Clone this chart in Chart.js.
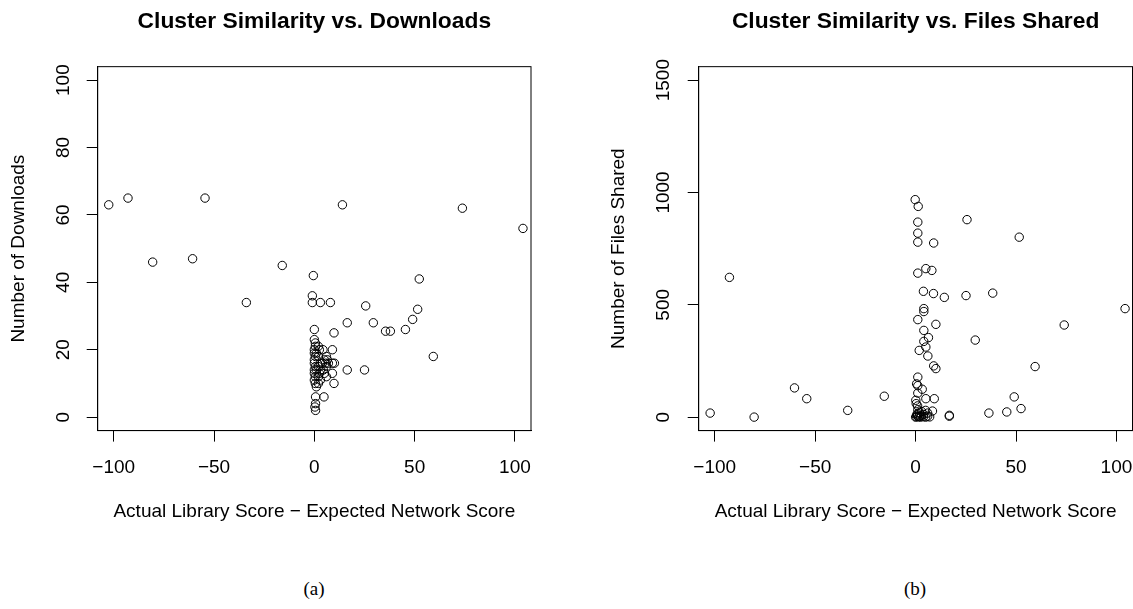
<!DOCTYPE html>
<html>
<head>
<meta charset="utf-8">
<script src="https://cdn.jsdelivr.net/npm/chart.js@4/dist/chart.umd.min.js"></script>
<style>
  html, body { margin: 0; padding: 0; background: #fff; overflow: hidden; }
  body { width: 1133px; height: 609px; position: relative; }
  canvas { position: absolute; top: 0; }
  #c1 { left: 0; }
  #c2 { left: 600px; }
  .cap { position: absolute; top: 578px; width: 60px; text-align: center;
         font: 19px "Liberation Serif", "DejaVu Serif", serif; color: #000; }
</style>
</head>
<body>
<canvas id="c1" width="560" height="527"></canvas>
<canvas id="c2" width="560" height="527"></canvas>
<div class="cap" style="left:284px">(a)</div>
<div class="cap" style="left:885px">(b)</div>
<script>
// x = actual library score - expected network score, y = downloads
const downloadsX = [
  -102.5, -92.9, -80.6, -60.7, -54.5, -33.9, -16,
  -0.5, -1, -1, 0, 0, 0.5, 0.5, 0, 0, 1, 0.5, 0, 0, 0.5, 0, 1, 0, 0.5, 0, 0.5, 1, 0.6, 0.6, 0.3, 0.6,
  3, 2, 2.5, 2, 3, 2, 2.5, 2, 3, 2, 3,
  4.3, 5, 4, 5.6, 7, 6, 4.5, 5, 6, 4.8, 6.5, 6,
  8, 9.8, 9, 9, 10, 9, 9.8,
  14, 16.4, 16.4, 25, 25.6, 29.4, 35.5, 37.9, 45.4, 49, 51.5, 52.3, 59.3, 73.8, 104
];
const downloadsY = [
  63, 65, 46, 47, 65, 34, 45,
  42, 36, 34, 26, 23, 22, 21, 20, 19, 19, 18, 17, 16, 15, 14, 14, 13, 12, 11, 10, 9, 6, 4, 3, 2,
  34, 21, 20, 18, 16, 15, 13, 12, 11, 10, 14,
  20, 17, 16, 16, 16, 15, 14, 13, 12, 6, 17, 18,
  34, 25, 20, 16, 16, 13, 10,
  63, 28, 14, 14, 33, 28, 25.5, 25.5, 26, 29, 32, 41, 18, 62, 56
];

// same x, y = files shared
const filesX = [
  -102.3, -92.7, -80.4, -60.3, -54.2, -33.8, -15.6,
  -0.2, 1.3, 1.1, 1.1, 1.1, 9, 5.1, 8.1, 1.1, 3.9, 8.9, 4.1, 4.1, 1.1, 10.1, 4.1, 6.4, 4.1, 5.1, 1.8, 6.1,
  9, 10.1, 1.1, 0.5, 1.1, 3.3, 1.1, 5.1, 9.3, 0.1, 1.1, 8.4,
  0, 0.5, 1, 1.5, 2, 2.5, 3, 4, 5, 6, 7, 0.5, 1, 2, 3, 4, 5, 6, 1, 0.3,
  14.3, 16.8, 16.8, 25.6, 25.1, 29.7, 36.5, 38.4, 45.4, 49.1, 51.6, 52.5, 59.5, 74, 104.3
];
const filesY = [
  18, 622, 0, 130, 82, 30, 93,
  968, 938, 868, 819, 779, 775, 661, 653, 641, 560, 550, 483, 470, 434, 413, 386, 354, 337, 312, 297, 272,
  228, 216, 178, 148, 140, 124, 107, 82, 82, 75, 33, 27,
  0, 2, 5, 1, 3, 0, 8, 2, 0, 4, 1, 10, 15, 20, 25, 12, 30, 18, 50, 60,
  533, 8, 4, 879, 541, 343, 18, 552, 23, 90, 801, 38, 225, 410, 483
];

const xTicks = [-100, -50, 0, 50, 100];
const downloadsTicks = [0, 20, 40, 60, 80, 100];
const filesTicks = [0, 500, 1000, 1500];

const FONT = '"Liberation Sans", Arial, Helvetica, sans-serif';
Chart.defaults.font.family = FONT;
Chart.defaults.font.size = 19;
Chart.defaults.color = '#000';

// R draws a full box round the plot region
const boxPlugin = {
  id: 'box',
  afterDraw(chart) {
    const { ctx, chartArea: a } = chart;
    ctx.save();
    ctx.strokeStyle = '#000';
    ctx.lineWidth = 1;
    ctx.strokeRect(a.left, a.top, a.right - a.left, a.bottom - a.top);
    ctx.restore();
  }
};

function toPoints(xs, ys) {
  return xs.map((x, i) => ({ x, y: ys[i] }));
}

function axisGrid() {
  return { drawOnChartArea: false, drawTicks: true, tickLength: 11, color: '#000', lineWidth: 1 };
}

// plain numbers with a real minus sign, no thousands separator
const fmt = v => String(v).replace('-', '\u2212');

function makeChart(id, opts) {
  return new Chart(document.getElementById(id), {
    type: 'scatter',
    data: {
      datasets: [{
        data: toPoints(opts.xs, opts.ys),
        pointStyle: 'circle',
        pointRadius: 4.2,
        pointHoverRadius: 4.2,
        pointBorderWidth: 1,
        borderColor: '#000',
        backgroundColor: 'rgba(0,0,0,0)'
      }]
    },
    options: {
      responsive: false,
      animation: false,
      devicePixelRatio: 1,
      layout: { padding: { left: 0, right: opts.padRight, top: 0, bottom: 0 } },
      plugins: {
        legend: { display: false },
        tooltip: { enabled: false },
        title: {
          display: true,
          fullSize: false,
          text: opts.title,
          font: { size: 22.8, weight: 'bold' },
          padding: { top: 8.3, bottom: 31 }
        }
      },
      scales: {
        x: {
          type: 'linear',
          min: -108,
          max: 108,
          afterBuildTicks: (axis) => { axis.ticks = xTicks.map(v => ({ value: v })); },
          grid: axisGrid(),
          border: { display: true, color: '#000', width: 1 },
          ticks: { padding: 14.3, maxRotation: 0, callback: fmt },
          title: {
            display: true,
            text: 'Actual Library Score \u2212 Expected Network Score',
            padding: { top: 7.3, bottom: 3.9 }
          }
        },
        y: {
          type: 'linear',
          min: opts.yMin,
          max: opts.yMax,
          afterBuildTicks: (axis) => { axis.ticks = opts.yTicks.map(v => ({ value: v })); },
          grid: axisGrid(),
          border: { display: true, color: '#000', width: 1 },
          ticks: { padding: opts.yTickPad, minRotation: 90, maxRotation: 90, crossAlign: 'center', callback: fmt },
          title: {
            display: true,
            text: opts.yTitle,
            padding: { top: 6.9, bottom: opts.yTitlePadBottom }
          }
        }
      }
    },
    plugins: [boxPlugin]
  });
}

makeChart('c1', {
  xs: downloadsX, ys: downloadsY,
  title: 'Cluster Similarity vs. Downloads',
  yTitle: 'Number of Downloads',
  yMin: -4, yMax: 104, yTicks: downloadsTicks,
  yTickPad: 7.55, yTitlePadBottom: 19.1, padRight: 29
});

makeChart('c2', {
  xs: filesX, ys: filesY,
  title: 'Cluster Similarity vs. Files Shared',
  yTitle: 'Number of Files Shared',
  yMin: -60, yMax: 1560, yTicks: filesTicks,
  yTickPad: 3.3, yTitlePadBottom: 28.6, padRight: 27.5
});
</script>
</body>
</html>
